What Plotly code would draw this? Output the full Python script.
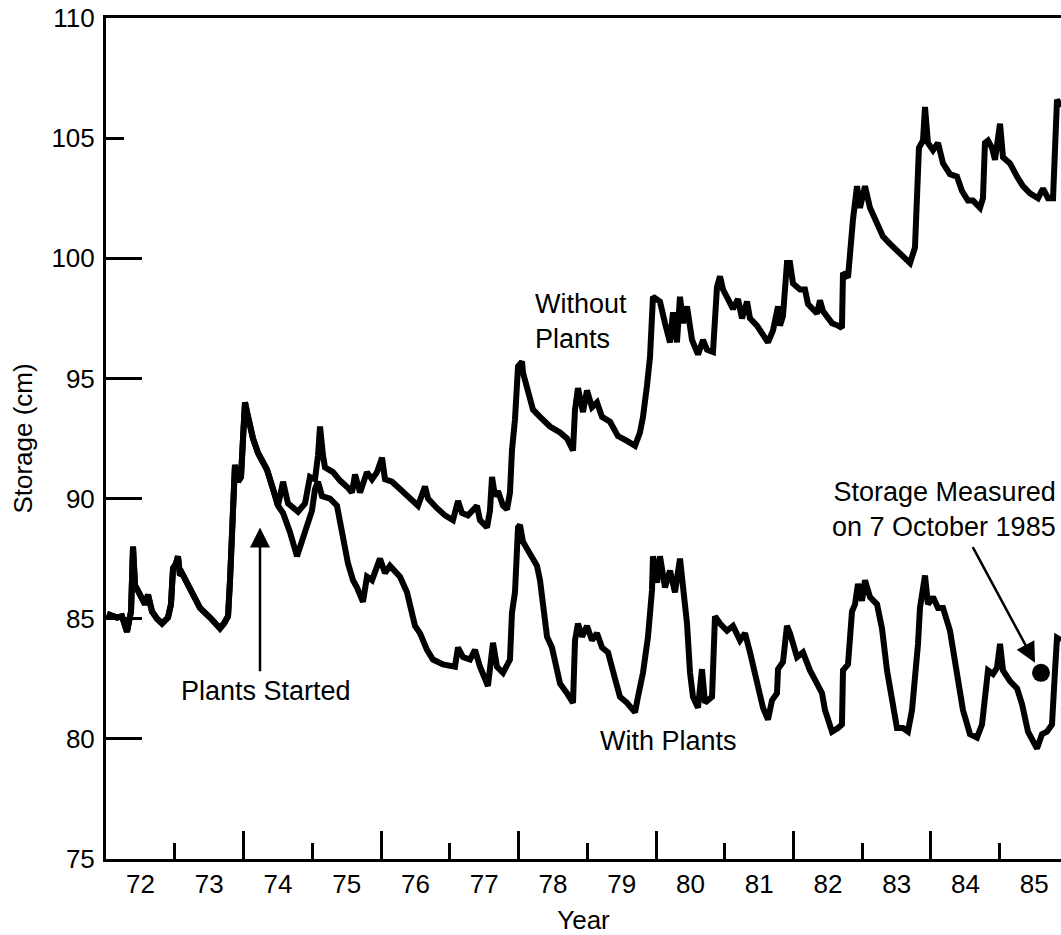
import plotly.graph_objects as go

# ---- data (year as decimal, storage in cm) ----
common_years = [72.015, 72.087, 72.160, 72.233, 72.305, 72.364, 72.393, 72.422, 72.495, 72.567,
                72.611, 72.669, 72.742, 72.815, 72.902, 72.945, 72.975, 73.018, 73.047, 73.076,
                73.105, 73.222, 73.367, 73.513, 73.658, 73.716, 73.775, 73.804, 73.833, 73.862,
                73.876, 73.920, 73.964, 73.993, 74.022, 74.051, 74.095, 74.138, 74.211, 74.269,
                74.342, 74.429, 74.502]
common_storage = [85.2, 85.1, 85.05, 85.1, 84.45, 85.3, 88.0, 86.4, 86.0, 85.6,
                  86.0, 85.3, 85.0, 84.8, 85.05, 85.6, 87.1, 87.3, 87.6, 86.8,
                  86.9, 86.2, 85.45, 85.05, 84.6, 84.8, 85.1, 86.6, 88.5, 90.8,
                  91.4, 90.7, 90.9, 92.5, 94.0, 93.6, 92.9, 92.5, 91.9, 91.6,
                  91.2, 90.4, 89.7]

without_years = [74.575, 74.647, 74.793, 74.895, 74.967, 75.040, 75.084, 75.113, 75.156, 75.185,
                 75.302, 75.404, 75.520, 75.578, 75.622, 75.695, 75.796, 75.869, 75.942, 76.015,
                 76.058, 76.160, 76.276, 76.422, 76.538, 76.640, 76.684, 76.815, 76.931, 77.047,
                 77.120, 77.178, 77.265, 77.396, 77.440, 77.542, 77.585, 77.615, 77.658, 77.702,
                 77.775, 77.833, 77.876, 77.905, 77.949, 77.993, 78.051, 78.065, 78.138, 78.211,
                 78.313, 78.458, 78.604, 78.705, 78.793, 78.822, 78.865, 78.938, 78.996, 79.069,
                 79.142, 79.215, 79.331, 79.447, 79.578, 79.695, 79.767, 79.811, 79.869, 79.913,
                 79.956, 80.015, 80.058, 80.131, 80.204, 80.247, 80.305, 80.349, 80.393, 80.451,
                 80.524, 80.611, 80.684, 80.742, 80.829, 80.887, 80.931, 80.975, 81.033, 81.120,
                 81.193, 81.251, 81.324, 81.367, 81.469, 81.556, 81.629, 81.702, 81.775, 81.804,
                 81.847, 81.905, 81.949, 81.993, 82.095, 82.167, 82.211, 82.342, 82.385, 82.429,
                 82.560, 82.647, 82.705, 82.720, 82.793, 82.865, 82.924, 82.967, 83.040, 83.113,
                 83.215, 83.302, 83.404, 83.505, 83.593, 83.695, 83.767, 83.796, 83.825, 83.884,
                 83.913, 83.956, 84.029, 84.102, 84.175, 84.276, 84.378, 84.451, 84.538, 84.611,
                 84.713, 84.756, 84.785, 84.829, 84.887, 84.931, 85.004, 85.047, 85.149, 85.251,
                 85.338, 85.440, 85.556, 85.629, 85.702, 85.775, 85.804, 85.833, 85.891]
without_storage = [90.7, 89.8, 89.45, 89.8, 90.9, 90.8, 91.8, 93.0, 91.8, 91.3,
                   91.1, 90.75, 90.45, 90.25, 91.0, 90.25, 91.1, 90.8, 91.1, 91.7,
                   90.8, 90.7, 90.4, 90.0, 89.7, 90.5, 90.0, 89.6, 89.3, 89.1,
                   89.9, 89.4, 89.3, 89.7, 89.1, 88.8, 89.5, 90.9, 90.1, 90.3,
                   89.7, 89.55, 90.25, 92.0, 93.3, 95.5, 95.7, 95.25, 94.4, 93.7,
                   93.4, 93.0, 92.75, 92.5, 92.0, 93.7, 94.6, 93.6, 94.5, 93.8,
                   94.0, 93.4, 93.2, 92.6, 92.4, 92.2, 92.75, 93.4, 94.7, 95.9,
                   98.4, 98.3, 98.2, 97.3, 96.5, 97.75, 96.5, 98.4, 97.3, 98.0,
                   96.6, 96.0, 96.6, 96.2, 96.1, 98.8, 99.25, 98.7, 98.4, 97.9,
                   98.3, 97.5, 98.2, 97.5, 97.2, 96.75, 96.5, 97.0, 98.0, 97.2,
                   97.6, 99.8, 99.8, 98.95, 98.7, 98.7, 98.1, 97.7, 98.25, 97.8,
                   97.3, 97.2, 97.1, 99.4, 99.2, 101.6, 103.0, 102.1, 103.0, 102.1,
                   101.5, 100.9, 100.6, 100.3, 100.1, 99.8, 100.45, 102.3, 104.6, 104.9,
                   106.3, 104.8, 104.5, 104.8, 103.95, 103.5, 103.4, 102.8, 102.4, 102.4,
                   102.1, 102.5, 104.8, 104.9, 104.6, 104.1, 105.6, 104.2, 103.95, 103.4,
                   103.0, 102.7, 102.5, 102.9, 102.5, 102.5, 104.9, 106.6, 106.3]

with_years = [74.575, 74.633, 74.676, 74.778, 74.865, 74.938, 74.996, 75.040, 75.084, 75.142,
              75.258, 75.360, 75.447, 75.520, 75.593, 75.651, 75.738, 75.796, 75.869, 75.942,
              75.985, 76.058, 76.131, 76.276, 76.378, 76.495, 76.567, 76.669, 76.756, 76.902,
              77.076, 77.120, 77.193, 77.295, 77.367, 77.440, 77.556, 77.629, 77.687, 77.775,
              77.876, 77.905, 77.949, 77.993, 78.022, 78.065, 78.167, 78.269, 78.313, 78.415,
              78.487, 78.604, 78.705, 78.793, 78.822, 78.865, 78.924, 78.996, 79.069, 79.142,
              79.215, 79.302, 79.404, 79.476, 79.578, 79.695, 79.738, 79.811, 79.884, 79.942,
              79.956, 80.015, 80.058, 80.131, 80.204, 80.276, 80.349, 80.393, 80.451, 80.495,
              80.538, 80.611, 80.669, 80.713, 80.815, 80.858, 80.931, 81.033, 81.120, 81.222,
              81.295, 81.367, 81.469, 81.556, 81.629, 81.687, 81.760, 81.775, 81.847, 81.905,
              81.949, 82.051, 82.138, 82.240, 82.342, 82.415, 82.458, 82.560, 82.647, 82.705,
              82.720, 82.793, 82.851, 82.895, 82.938, 82.996, 83.040, 83.113, 83.215, 83.287,
              83.360, 83.433, 83.505, 83.593, 83.665, 83.724, 83.767, 83.811, 83.840, 83.913,
              83.956, 84.029, 84.102, 84.175, 84.276, 84.378, 84.465, 84.567, 84.669, 84.742,
              84.785, 84.829, 84.902, 84.960, 85.004, 85.047, 85.149, 85.251, 85.324, 85.411,
              85.542, 85.615, 85.687, 85.760, 85.804, 85.833, 85.891]
with_storage = [89.4, 89.0, 88.6, 87.6, 88.4, 89.1, 89.5, 90.4, 90.7, 90.1,
                90.0, 89.7, 88.3, 87.3, 86.6, 86.3, 85.7, 86.75, 86.6, 87.2,
                87.5, 86.9, 87.2, 86.75, 86.1, 84.7, 84.4, 83.7, 83.3, 83.1,
                83.0, 83.8, 83.4, 83.3, 83.7, 83.0, 82.2, 84.0, 83.0, 82.75,
                83.3, 85.25, 86.1, 88.8, 88.9, 88.2, 87.75, 87.2, 86.6, 84.25,
                83.8, 82.3, 81.9, 81.5, 84.1, 84.8, 84.25, 84.7, 84.1, 84.4,
                83.8, 83.6, 82.5, 81.75, 81.5, 81.1, 81.75, 82.75, 84.25, 86.2,
                87.6, 86.5, 87.6, 86.3, 87.0, 86.1, 87.5, 86.2, 84.8, 82.75,
                81.75, 81.3, 82.9, 81.5, 81.75, 85.1, 84.8, 84.5, 84.7, 84.1,
                84.4, 83.6, 82.2, 81.3, 80.8, 81.6, 81.9, 82.9, 83.2, 84.7,
                84.4, 83.4, 83.6, 82.85, 82.3, 81.9, 81.2, 80.3, 80.45, 80.6,
                82.85, 83.1, 85.3, 85.6, 86.45, 85.75, 86.6, 85.9, 85.6, 84.6,
                82.85, 81.45, 80.45, 80.45, 80.3, 81.2, 82.3, 83.95, 85.45, 86.8,
                85.6, 85.9, 85.45, 85.45, 84.5, 82.85, 81.2, 80.2, 80.05, 80.6,
                82.0, 82.85, 82.7, 82.95, 83.95, 82.85, 82.4, 82.1, 81.45, 80.3,
                79.6, 80.2, 80.3, 80.6, 82.85, 84.2, 84.1]

measured_year = [85.6]
measured_storage = [82.75]

year_labels = ["72", "73", "74", "75", "76", "77", "78", "79", "80", "81", "82", "83", "84", "85"]
year_label_pos = [72.5 + i for i in range(len(year_labels))]
short_year_ticks = [73, 75, 77, 79, 81, 83, 85]
long_year_ticks = [74, 76, 78, 80, 82, 84]
storage_ticks = [75, 80, 85, 90, 95, 100, 105, 110]
long_storage_ticks = [80, 85, 90, 95, 100]
short_storage_ticks = [105]

FONT = "Liberation Sans, Arial, Helvetica, sans-serif"
FS_TICK = 26
FS_TEXT = 27
XR = [72, 85.891]
YR = [75, 110]

fig = go.Figure()
fig.add_trace(go.Scatter(x=common_years + with_years, y=common_storage + with_storage,
                         mode="lines", line=dict(color="black", width=6),
                         name="With Plants", showlegend=False))
fig.add_trace(go.Scatter(x=common_years + without_years, y=common_storage + without_storage,
                         mode="lines", line=dict(color="black", width=6),
                         name="Without Plants", showlegend=False, xaxis="x2"))
fig.add_trace(go.Scatter(x=measured_year, y=measured_storage, mode="markers",
                         marker=dict(color="black", size=18),
                         name="Storage Measured", showlegend=False, yaxis="y2"))

fig.update_layout(
    width=1061, height=935,
    margin=dict(l=106, r=0, t=18, b=76),
    paper_bgcolor="white", plot_bgcolor="white",
    font=dict(family=FONT, size=FS_TICK, color="black"),
    xaxis=dict(range=XR, tickmode="array", tickvals=year_label_pos, ticktext=year_labels,
               ticks="", showgrid=False, zeroline=False,
               showline=True, linewidth=3, linecolor="black", mirror=True,
               ticklabelstandoff=0, tickfont=dict(size=FS_TICK),
               minor=dict(tickmode="array", tickvals=short_year_ticks, ticks="inside",
                          ticklen=16, tickwidth=2.5, tickcolor="black", showgrid=False),
               title=dict(text="Year", font=dict(size=FS_TICK), standoff=17)),
    xaxis2=dict(overlaying="x", matches="x", anchor="y", range=XR, tickmode="array",
                tickvals=long_year_ticks, ticks="inside", ticklen=28, tickwidth=2.5,
                tickcolor="black", showticklabels=False, showgrid=False, zeroline=False,
                showline=False),
    yaxis=dict(range=YR, tickmode="array", tickvals=storage_ticks,
               ticktext=[str(v) for v in storage_ticks],
               ticks="", showgrid=False, zeroline=False,
               showline=True, linewidth=3, linecolor="black",
               ticklabelstandoff=3, tickfont=dict(size=FS_TICK),
               minor=dict(tickmode="array", tickvals=long_storage_ticks, ticks="inside",
                          ticklen=36, tickwidth=2.5, tickcolor="black", showgrid=False),
               title=dict(text="Storage (cm)", font=dict(size=FS_TICK), standoff=12)),
    yaxis2=dict(overlaying="y", matches="y", anchor="x", side="left", range=YR,
                tickmode="array", tickvals=short_storage_ticks, ticks="inside", ticklen=18,
                tickwidth=2.5, tickcolor="black", showticklabels=False, showgrid=False,
                zeroline=False, showline=False),
)

# text labels
fig.add_annotation(x=78.211, y=97.375, text="Without<br>Plants", showarrow=False,
                   xanchor="left", yanchor="middle", align="left", font=dict(size=FS_TEXT))
fig.add_annotation(x=80.175, y=79.92, text="With Plants", showarrow=False,
                   xanchor="center", yanchor="middle", font=dict(size=FS_TEXT))
fig.add_annotation(x=74.327, y=82.0, text="Plants Started", showarrow=False,
                   xanchor="center", yanchor="middle", font=dict(size=FS_TEXT))
fig.add_annotation(x=85.847, y=89.54, text="Storage Measured<br>on 7 October 1985",
                   showarrow=False, xanchor="right", yanchor="middle", align="right",
                   font=dict(size=FS_TEXT))

# arrows
fig.add_annotation(x=74.24, y=88.8, ax=74.24, ay=82.75, axref="x", ayref="y", text="",
                   showarrow=True, arrowhead=2, arrowsize=1.6, arrowwidth=2.5,
                   arrowcolor="black")
fig.add_annotation(x=85.513, y=83.17, ax=84.596, ay=88.04, axref="x", ayref="y", text="",
                   showarrow=True, arrowhead=2, arrowsize=1.6, arrowwidth=2.5,
                   arrowcolor="black")

fig.write_html("out.html")
